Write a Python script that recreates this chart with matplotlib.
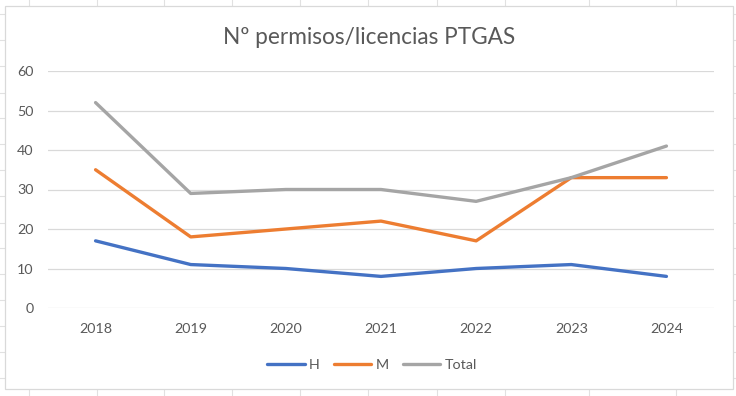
import matplotlib
matplotlib.use("Agg")
import matplotlib.pyplot as plt
from matplotlib.lines import Line2D
from matplotlib.patches import Rectangle

years = ["2018", "2019", "2020", "2021", "2022", "2023", "2024"]
h_vals = [17, 11, 10, 8, 10, 11, 8]
m_vals = [35, 18, 20, 22, 17, 33, 33]
total_vals = [52, 29, 30, 30, 27, 33, 41]
series_names = ["H", "M", "Total"]
colors = ["#4472C4", "#ED7D31", "#A5A5A5"]
title = "Nº permisos/licencias PTGAS"

plt.rcParams["font.family"] = ["Lato", "DejaVu Sans"]

W, H = 736, 396
fig = plt.figure(figsize=(W / 100, H / 100), dpi=100)

# spreadsheet cell gridlines behind the chart
cell_x = [29, 97, 164, 232, 300, 368, 437, 505, 589, 676]
cell_y = [14, 40, 66, 93, 118, 144, 170, 196, 223, 248, 274, 300, 326, 352, 378]
for x in cell_x:
    fig.add_artist(Line2D([x / W, x / W], [0, 1], color="#E1E1E1", lw=0.8, zorder=0))
for y in cell_y:
    fig.add_artist(Line2D([0, 1], [1 - y / H, 1 - y / H], color="#E1E1E1", lw=0.8, zorder=0))

# chart area (white box with border)
x0, y0, x1, y1 = 5, 6, 733, 389
fig.add_artist(Rectangle((x0 / W, 1 - y1 / H), (x1 - x0) / W, (y1 - y0) / H,
                         transform=fig.transFigure, facecolor="white",
                         edgecolor="#D9D9D9", lw=0.9, zorder=1))

ax = fig.add_axes([48 / W, 1 - 308 / H, (714 - 48) / W, (308 - 71) / H], zorder=2)
ax.set_facecolor("none")
xs = list(range(len(years)))
for vals, name, c in zip([h_vals, m_vals, total_vals], series_names, colors):
    ax.plot(xs, vals, color=c, lw=2.4, label=name, solid_capstyle="round",
            solid_joinstyle="round", zorder=3)

ax.set_xlim(-0.5, len(years) - 0.5)
ax.set_ylim(0, 60)
ax.set_yticks(range(0, 61, 10))
ax.set_xticks(xs)
ax.set_xticklabels(years)
ax.grid(axis="y", color="#D9D9D9", lw=0.9)
ax.set_axisbelow(True)
for s in ax.spines.values():
    s.set_visible(False)
ax.tick_params(axis="both", length=0, labelsize=10.3, labelcolor="#595959")
ax.tick_params(axis="y", pad=10.5)
ax.tick_params(axis="x", pad=11)

fig.text(369 / W, 1 - 37 / H, title, ha="center", va="center",
         fontsize=16.3, color="#595959", zorder=3)

leg = fig.legend(loc="center", bbox_to_anchor=(372 / W, 1 - 365 / H), ncol=3,
                 frameon=False, fontsize=10.3, handlelength=2.6, handletextpad=0.3,
                 columnspacing=1.0)
for t in leg.get_texts():
    t.set_color("#595959")
leg.set_zorder(3)

fig.savefig("out.png", dpi=100)
